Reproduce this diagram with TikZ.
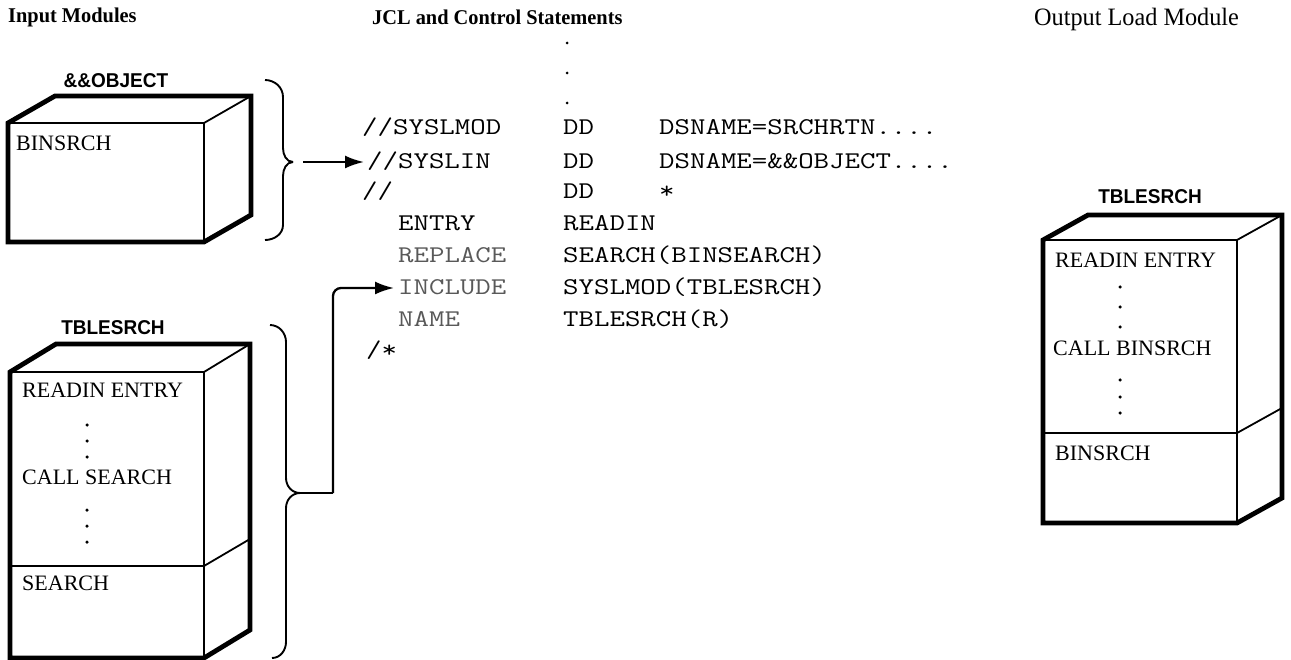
\documentclass[tikz,border=0pt]{standalone}
\usepackage{fontspec}
\usepackage{graphicx}
\setmainfont{Liberation Serif}
\newfontfamily\headfont[FakeStretch=0.97]{Liberation Serif}
\newfontfamily\labfont[FakeStretch=0.95]{Liberation Sans}
\newcommand\codetext[1]{\scalebox{1.25}[1]{#1}}
\usetikzlibrary{arrows.meta}
\tikzset{
 header/.style={anchor=west,inner sep=0pt,font=\headfont\bfseries\fontsize{21}{24}\selectfont},
 modlabel/.style={anchor=center,inner sep=0pt,font=\labfont\bfseries\fontsize{20}{23}\selectfont},
 boxtext/.style={anchor=west,inner sep=0pt,font=\fontsize{22}{25}\selectfont},
 code/.style={anchor=base west,inner sep=0pt,font=\ttfamily\fontsize{24}{28}\selectfont},
 codegray/.style={code,text=black!65},
 outline/.style={line width=4.8pt,line join=miter},
 innerline/.style={line width=1.8pt},
 bracestyle/.style={line width=1.9pt},
 arr/.style={line width=2.3pt,-{Latex[length=19pt,width=13pt]}},
 dotmark/.style={circle,fill,inner sep=0pt,minimum size=3.5pt},
}
\newcommand\modbox[6]{%
 \draw[innerline] (#1,#2) -- (#3,#2) -- (#3,#4);
 \draw[innerline] (#3,#2) -- ++(#5,-#6);
 \draw[outline] (#1,#4) -- (#1,#2) -- ++(#5,-#6) -- ++({#3-#1},0) -- ++(0,{#4-#2}) -- (#3,#4) -- cycle;
}
\begin{document}
\begin{tikzpicture}[x=1pt,y=-1pt]
\fill[white] (0,0) rectangle (1291,660);
\useasboundingbox (0,0) rectangle (1291,660);

% headers
\node[header] (hin) at (8,17) {Input Modules};
\node[header] (hjcl) at (372,17) {JCL and Control Statements};
\node[header,font=\headfont\fontsize{25}{28}\selectfont] (hout) at (1034,19) {Output Load Module};

% box 1
\node[modlabel] (lobj) at (116,81) {\&\&OBJECT};
\modbox{8}{123}{204}{242}{47}{27}
\node[boxtext] (t1) at (16,143) {BINSRCH};

% box 2
\node[modlabel] (ltbl) at (113,328) {TBLESRCH};
\modbox{10}{372}{204}{658}{46}{28}
\draw[innerline] (10,566) -- (204,566) -- ++(46,-27);
\node[boxtext] (t2a) at (22,390) {READIN ENTRY};
\foreach \yy in {425,441,457} \node[dotmark] at (87,\yy) {};
\node[boxtext] (t2b) at (22,477) {CALL SEARCH};
\foreach \yy in {510,526,542} \node[dotmark] at (87,\yy) {};
\node[boxtext] (t2c) at (22,583) {SEARCH};

% box 3
\node[modlabel] (lout) at (1150,197) {TBLESRCH};
\modbox{1043}{240}{1237}{523}{45}{25}
\draw[innerline] (1043,433) -- (1237,433) -- ++(45,-25);
\node[boxtext] (t3a) at (1055,260) {READIN ENTRY};
\foreach \yy in {287,307,327} \node[dotmark] at (1120,\yy) {};
\node[boxtext] (t3b) at (1053,348) {CALL BINSRCH};
\foreach \yy in {380,397,413} \node[dotmark] at (1120,\yy) {};
\node[boxtext] (t3c) at (1055,453) {BINSRCH};

% code
\foreach \yy in {43,73,103} \node[dotmark,minimum size=3pt] at (567,\yy) {};
\node[code] (c1a) at (362,135) {\codetext{//SYSLMOD}};
\node[code] (c1b) at (563,135) {\codetext{DD}};
\node[code] (c1c) at (659,135) {\codetext{DSNAME=SRCHRTN....}};
\node[code] (syslin) at (367,169) {\codetext{//SYSLIN}};
\node[code] (c2b) at (563,169) {\codetext{DD}};
\node[code] (c2c) at (659,169) {\codetext{DSNAME=\&\&OBJECT....}};
\node[code] (c3a) at (362,199) {\codetext{//}};
\node[code] (c3b) at (563,199) {\codetext{DD}};
\node[code] (c3c) at (659,199) {\codetext{*}};
\node[code] (c4a) at (398,231) {\codetext{ENTRY}};
\node[code] (c4b) at (563,231) {\codetext{READIN}};
\node[codegray] (c5a) at (398,263) {\codetext{REPLACE}};
\node[code] (c5b) at (563,263) {\codetext{SEARCH(BINSEARCH)}};
\node[codegray] (include) at (398,295) {\codetext{INCLUDE}};
\node[code] (c6b) at (563,295) {\codetext{SYSLMOD(TBLESRCH)}};
\node[codegray] (c7a) at (398,327) {\codetext{NAME}};
\node[code] (c7b) at (563,327) {\codetext{TBLESRCH(R)}};
\node[code] (c8a) at (366,358) {\codetext{/*}};

% braces
\coordinate (b1tip) at (293,162);
\draw[bracestyle] (265,80) to[out=0,in=90] (283,97) -- (283,148) to[out=-90,in=180] (b1tip);
\draw[bracestyle] (b1tip) to[out=180,in=90] (283,176) -- (283,225) to[out=-90,in=0] (265,240);
\coordinate (b2tip) at (300,493);
\draw[bracestyle] (270,325) to[out=0,in=90] (286,342) -- (286,478) to[out=-90,in=180] (b2tip);
\draw[bracestyle] (b2tip) to[out=180,in=90] (286,508) -- (286,642) to[out=-90,in=0] (272,658);

% connectors
\draw[arr] ([xshift=10pt]b1tip) -- ([xshift=-3pt]b1tip -| syslin.west);
\coordinate (bend) at (333,493);
\coordinate (incl) at ([shift={(-4,-7)}]include.base west);
\draw[bracestyle] (b2tip) -- (bend);
\draw[arr,rounded corners=8pt] (bend) |- (incl);
\end{tikzpicture}
\end{document}
